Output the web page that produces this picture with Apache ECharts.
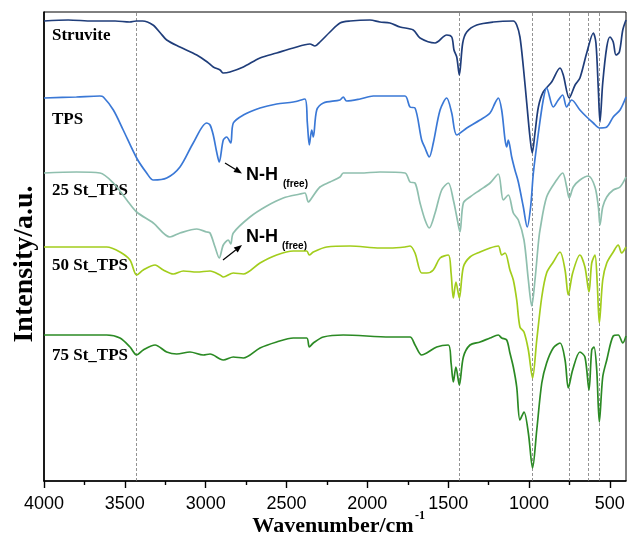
<!DOCTYPE html>
<html lang="en">
<head>
  <meta charset="UTF-8">
  <title>FTIR spectra</title>
  <script src="https://cdn.jsdelivr.net/npm/echarts@6/dist/echarts.min.js"></script>
  <style>
    html, body { margin: 0; padding: 0; background: #fff; }
    #chart { width: 627px; height: 538px; }
  </style>
</head>
<body>
<div id="chart"></div>
<script>
  // wavenumber (cm-1), intensity (a.u., stacked offsets)
  const struvite = [
    [4000,460],[3850,461],[3700,460],[3560,460],[3470,459],[3430,460],[3390,460],[3326,456],[3280,448],
    [3241,441],[3159,434],[3055,426],[2990,419],[2953,414],[2911,411],[2891,408],[2850,409],[2767,414],
    [2664,423],[2561,428],[2458,433],[2355,437],[2324,435],[2293,439],[2231,449],[2169,458],[2107,460],
    [1984,461],[1922,459],[1860,458],[1798,454],[1716,451],[1674,443],[1581,438],[1509,446],[1478,444],
    [1464,431],[1447,424],[1431,406],[1410,438],[1385,449],[1323,456],[1221,459],[1097,460],[1076,456],
    [1056,444],[1035,414],[1014,378],[994,344],[980,328],[963,348],[942,374],[912,389],[860,399],
    [808,413],[788,406],[751,383],[715,396],[685,403],[643,428],[602,448],[586,438],[571,391],[561,359],
    [544,398],[519,434],[499,444],[479,439],[462,426],[441,429],[420,451],[400,461]
  ];
  const tps = [
    [4000,383],[3800,384],[3654,385],[3633,384],[3571,371],[3510,351],[3427,323],[3365,308],[3324,301],
    [3241,303],[3159,314],[3077,338],[2994,358],[2973,356],[2953,346],[2932,329],[2916,319],[2891,341],
    [2870,344],[2845,338],[2829,358],[2767,366],[2664,373],[2561,377],[2458,379],[2386,382],[2371,358],
    [2359,336],[2344,351],[2334,344],[2313,371],[2272,378],[2169,381],[2149,384],[2128,380],[2045,382],
    [1963,385],[1860,385],[1767,385],[1736,374],[1705,373],[1664,341],[1643,333],[1617,324],[1592,338],
    [1550,371],[1509,383],[1478,368],[1447,346],[1385,353],[1303,361],[1241,368],[1210,378],[1190,383],
    [1169,371],[1148,341],[1138,334],[1128,341],[1107,324],[1087,311],[1066,299],[1035,274],[1011,254],
    [990,274],[973,308],[942,348],[912,381],[891,393],[850,374],[819,381],[792,386],[767,374],[736,381],
    [685,371],[643,364],[602,358],[565,353],[519,354],[479,364],[437,371],[400,384]
  ];
  const st25 = [
    [4000,308],[3800,309],[3654,308],[3571,298],[3488,281],[3427,269],[3324,258],[3221,244],[3159,248],
    [3055,252],[2994,249],[2973,248],[2942,234],[2916,223],[2891,236],[2860,241],[2845,237],[2829,248],
    [2726,264],[2622,275],[2520,283],[2417,287],[2386,288],[2365,279],[2344,283],[2293,294],[2231,299],
    [2169,304],[2149,308],[2045,308],[1922,309],[1767,308],[1736,299],[1705,298],[1674,278],[1643,261],
    [1617,253],[1581,268],[1540,291],[1499,298],[1468,281],[1443,261],[1427,249],[1406,278],[1365,284],
    [1303,291],[1241,298],[1190,307],[1159,281],[1128,286],[1097,268],[1066,261],[1031,241],[1004,201],
    [983,175],[963,201],[942,238],[932,251],[891,284],[829,301],[792,308],[767,294],[751,283],[726,294],
    [685,301],[633,305],[592,294],[571,274],[561,256],[544,274],[519,284],[479,291],[437,294],[400,304]
  ];
  const st50 = [
    [4000,234],[3800,234],[3612,234],[3530,229],[3468,221],[3427,206],[3386,211],[3313,216],[3262,211],
    [3200,207],[3138,210],[3055,209],[2973,210],[2911,206],[2891,204],[2829,208],[2767,207],[2664,218],
    [2561,226],[2458,230],[2375,230],[2359,226],[2334,229],[2251,234],[2107,235],[1922,233],[1860,233],
    [1767,234],[1736,235],[1705,228],[1664,208],[1633,208],[1592,211],[1550,223],[1499,226],[1482,208],
    [1468,183],[1452,199],[1431,183],[1406,214],[1365,224],[1303,229],[1241,233],[1190,235],[1169,226],
    [1148,228],[1118,211],[1097,201],[1076,181],[1056,154],[1031,149],[1004,131],[978,103],[952,141],
    [921,184],[891,208],[850,219],[808,229],[777,211],[757,186],[730,208],[685,226],[654,214],[629,189],
    [612,218],[592,226],[578,198],[565,158],[544,201],[519,218],[479,229],[448,236],[427,228],[400,234]
  ];
  const st75 = [
    [4000,146],[3800,146],[3612,146],[3530,143],[3468,134],[3427,126],[3386,131],[3313,136],[3241,129],
    [3179,127],[3097,129],[3015,126],[2973,127],[2911,122],[2891,121],[2829,124],[2767,123],[2664,133],
    [2561,139],[2458,143],[2375,143],[2359,134],[2334,138],[2272,144],[2149,146],[1860,144],[1736,144],
    [1705,136],[1664,126],[1633,128],[1571,134],[1499,136],[1482,118],[1468,99],[1452,114],[1431,96],
    [1406,124],[1365,136],[1303,139],[1241,143],[1190,146],[1169,143],[1138,141],[1118,128],[1097,114],
    [1076,94],[1056,61],[1031,69],[1004,48],[978,13],[952,51],[921,98],[891,118],[850,133],[808,138],
    [777,121],[757,93],[730,111],[685,129],[654,124],[629,91],[612,131],[598,134],[581,111],[565,59],
    [544,104],[519,121],[479,145],[448,146],[420,138],[400,145]
  ];

  const seriesNames = ['Struvite', 'TPS', '25 St_TPS', '50 St_TPS', '75 St_TPS'];
  const seriesColors = ['#1f3d7a', '#3a78d6', '#8fbfae', '#a2cd1c', '#2b8a24'];
  const majorTicks = [4000, 3500, 3000, 2500, 2000, 1500, 1000, 500];
  const minorTicks = [3750, 3250, 2750, 2250, 1750, 1250, 750];
  const guideLines = [3430, 1430, 982, 750, 632, 565];

  const serif = '"Liberation Serif", "Times New Roman", serif';
  const sans = '"Liberation Sans", Arial, sans-serif';

  const chart = echarts.init(document.getElementById('chart'));

  const allData = [struvite, tps, st25, st50, st75];
  const series = allData.map((d, i) => ({
    name: seriesNames[i],
    type: 'line',
    data: d,
    showSymbol: false,
    smooth: 0.3,
    lineStyle: { color: seriesColors[i], width: 1.7 },
    z: 3
  }));
  // dashed guide lines
  series[0].markLine = {
    silent: true,
    symbol: 'none',
    label: { show: false },
    lineStyle: { color: '#777', type: [3, 2], width: 0.8 },
    z: 1,
    data: guideLines.map(v => ({ xAxis: v }))
  };

  // curve labels + N-H annotations
  const labelY = [36.5, 120.5, 191.5, 266.5, 356.5];
  const graphics = seriesNames.map((n, i) => ({
    type: 'text', left: 52, top: labelY[i] - 9,
    style: { text: n, font: 'bold 17px ' + serif, fill: '#000' }
  }));

  function arrow(x1, y1, x2, y2) {
    const dx = x2 - x1, dy = y2 - y1, len = Math.hypot(dx, dy);
    const ux = dx / len, uy = dy / len, hl = 8, hw = 3.2;
    const bx = x2 - ux * hl, by = y2 - uy * hl;
    return [
      { type: 'line', shape: { x1: x1, y1: y1, x2: bx, y2: by }, style: { stroke: '#000', lineWidth: 1.2 } },
      { type: 'polygon', shape: { points: [[x2, y2], [bx - uy * hw, by + ux * hw], [bx + uy * hw, by - ux * hw]] }, style: { fill: '#000' } }
    ];
  }
  graphics.push(...arrow(225, 163, 242, 173.5));
  graphics.push(...arrow(223, 260, 242, 245));
  graphics.push(
    { type: 'text', style: { text: 'N-H', x: 246, y: 175, font: 'bold 18px ' + sans, fill: '#000', verticalAlign: 'middle' } },
    { type: 'text', style: { text: '(free)', x: 283, y: 184, font: 'bold 10px ' + sans, fill: '#000', verticalAlign: 'middle' } },
    { type: 'text', style: { text: 'N-H', x: 246, y: 237.5, font: 'bold 18px ' + sans, fill: '#000', verticalAlign: 'middle' } },
    { type: 'text', style: { text: '(free)', x: 282, y: 246, font: 'bold 10px ' + sans, fill: '#000', verticalAlign: 'middle' } },
    // axis titles
    { type: 'text', style: { text: 'Wavenumber/cm', x: 333, y: 526, font: 'bold 22px ' + serif, fill: '#000', align: 'center', verticalAlign: 'middle' } },
    { type: 'text', style: { text: '-1', x: 415, y: 516, font: 'bold 12px ' + serif, fill: '#000', verticalAlign: 'middle' } },
    { type: 'text', x: 25, y: 264, rotation: Math.PI / 2,
      style: { text: 'Intensity/a.u.', x: 0, y: 0, font: 'bold 28px ' + serif, fill: '#000', align: 'center', verticalAlign: 'middle' } }
  );

  chart.setOption({
    animation: false,
    backgroundColor: '#fff',
    grid: {
      left: 44, right: 1, top: 12, bottom: 57,
      outerBoundsMode: 'none', containLabel: false,
      show: true, borderColor: '#000', borderWidth: 1
    },
    xAxis: [
      {
        type: 'value', inverse: true, min: 400, max: 4000,
        axisLine: { show: true, onZero: false, lineStyle: { color: '#000', width: 1.6 } },
        axisTick: { show: true, length: 7, customValues: majorTicks, lineStyle: { color: '#000', width: 1.4 } },
        axisLabel: {
          customValues: majorTicks, color: '#000', fontSize: 18, fontFamily: sans, margin: 14,
          formatter: v => String(v)
        },
        splitLine: { show: false }
      },
      {
        type: 'value', inverse: true, min: 400, max: 4000, position: 'bottom',
        axisLine: { show: false },
        axisTick: { show: true, length: 4, customValues: minorTicks, lineStyle: { color: '#000', width: 1.4 } },
        axisLabel: { show: false },
        splitLine: { show: false }
      }
    ],
    yAxis: {
      type: 'value', min: 0, max: 469,
      axisLine: { show: true, lineStyle: { color: '#000', width: 1.6 } },
      axisTick: { show: false },
      axisLabel: { show: false },
      splitLine: { show: false }
    },
    series: series,
    graphic: graphics
  });
</script>
</body>
</html>
